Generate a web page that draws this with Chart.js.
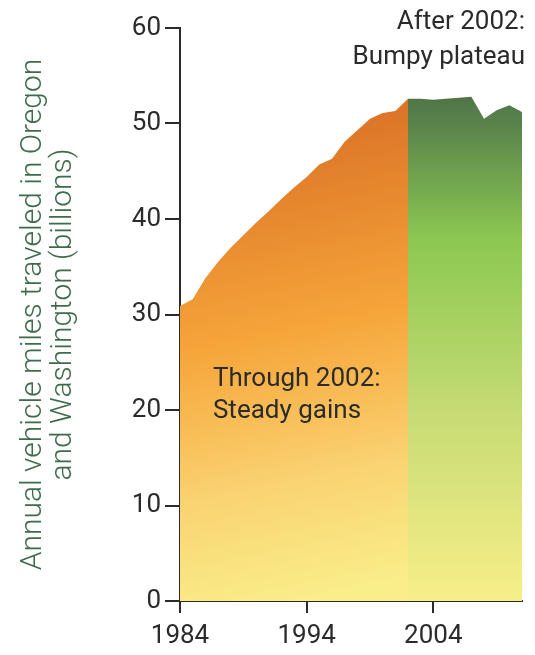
<!DOCTYPE html>
<html>
<head>
<meta charset="utf-8">
<script src="https://cdn.jsdelivr.net/npm/chart.js@4.4.1/dist/chart.umd.min.js"></script>
<style>
  html, body { margin: 0; padding: 0; background: #ffffff; }
  #wrap { position: relative; width: 535px; height: 655px; }
</style>
</head>
<body>
<div id="wrap"><canvas id="vmt"></canvas></div>
<script>
// Annual vehicle miles traveled, Oregon + Washington (billions)
const yearsThrough2002 = [1984, 1985, 1986, 1987, 1988, 1989, 1990, 1991, 1992, 1993,
                          1994, 1995, 1996, 1997, 1998, 1999, 2000, 2001, 2002];
const milesThrough2002 = [30.9, 31.6, 33.8, 35.5, 37.0, 38.3, 39.6, 40.8, 42.1, 43.3,
                          44.4, 45.7, 46.3, 48.1, 49.3, 50.5, 51.1, 51.3, 52.6];
const yearsAfter2002 = [2002, 2003, 2004, 2005, 2006, 2007, 2008, 2009, 2010, 2011];
const milesAfter2002 = [52.6, 52.6, 52.5, 52.6, 52.7, 52.8, 50.5, 51.4, 51.9, 51.2];
const xTickYears = [1984, 1994, 2004];
const yTickValues = [0, 10, 20, 30, 40, 50, 60];

const FONT = 'Roboto, "Liberation Sans", sans-serif';
const INK = '#2b2b2b';

function toPoints(xs, ys) {
  return xs.map((x, i) => ({ x: x, y: ys[i] }));
}

function orangeFill(ctx) {
  const ca = ctx.chart.chartArea;
  if (!ca) return '#f4a23a';
  const g = ctx.chart.ctx.createLinearGradient(ca.left, ca.top, ca.left + 120, ca.bottom);
  g.addColorStop(0.0, '#d4641f');
  g.addColorStop(0.22, '#dd7628');
  g.addColorStop(0.55, '#f6a63a');
  g.addColorStop(0.8, '#fad372');
  g.addColorStop(1.0, '#f9ee8a');
  return g;
}

function greenFill(ctx) {
  const ca = ctx.chart.chartArea;
  if (!ca) return '#8cc852';
  const g = ctx.chart.ctx.createLinearGradient(0, ca.top, 0, ca.bottom);
  g.addColorStop(0.10, '#4a6e47');
  g.addColorStop(0.2, '#628e4c');
  g.addColorStop(0.37, '#8cc852');
  g.addColorStop(0.68, '#c8dc74');
  g.addColorStop(1.0, '#f8ee89');
  return g;
}

// Two-line captions placed by data coordinates through the scales
const captions = {
  id: 'captions',
  afterDatasetsDraw(chart) {
    const { ctx, scales } = chart;
    const xs = scales.x, ys = scales.y;
    ctx.save();
    ctx.fillStyle = INK;
    ctx.font = '400 26px ' + FONT;
    ctx.textBaseline = 'middle';

    ctx.textAlign = 'left';
    const lx = xs.getPixelForValue(1986.6);
    ctx.fillText('Through 2002:', lx, ys.getPixelForValue(23.2));
    ctx.fillText('Steady gains', lx, ys.getPixelForValue(19.8));

    ctx.textAlign = 'right';
    const rx = chart.width - 10;
    ctx.fillText('After 2002:', rx, 22);
    ctx.fillText('Bumpy plateau', rx, 57);
    ctx.restore();
  }
};

new Chart(document.getElementById('vmt'), {
  type: 'line',
  data: {
    datasets: [
      {
        data: toPoints(yearsThrough2002, milesThrough2002),
        fill: 'origin',
        backgroundColor: orangeFill,
        borderWidth: 0,
        pointRadius: 0,
        tension: 0
      },
      {
        data: toPoints(yearsAfter2002, milesAfter2002),
        fill: 'origin',
        backgroundColor: greenFill,
        borderWidth: 0,
        pointRadius: 0,
        tension: 0
      }
    ]
  },
  options: {
    responsive: true,
    maintainAspectRatio: false,
    animation: false,
    layout: { padding: { top: 28, right: 13, left: 0, bottom: 0 } },
    plugins: { legend: { display: false }, tooltip: { enabled: false } },
    scales: {
      x: {
        type: 'linear',
        min: 1984,
        max: 2011,
        afterBuildTicks: s => { s.ticks = xTickYears.map(v => ({ value: v })); },
        afterFit: s => { s.height = 54; },
        border: { display: true, color: INK, width: 2 },
        grid: { drawOnChartArea: false, drawTicks: true, tickLength: 12, color: INK, lineWidth: 2 },
        ticks: {
          color: INK,
          font: { family: FONT, size: 26, weight: '400' },
          padding: 8,
          maxRotation: 0,
          callback: v => String(v)
        }
      },
      y: {
        min: 0,
        max: 60,
        afterBuildTicks: s => { s.ticks = yTickValues.map(v => ({ value: v })); },
        afterFit: s => { s.width = 180; },
        border: { display: true, color: INK, width: 2 },
        grid: { drawOnChartArea: false, drawTicks: true, tickLength: 15, color: INK, lineWidth: 2 },
        ticks: {
          color: INK,
          font: { family: FONT, size: 26, weight: '400' },
          padding: 4
        },
        title: {
          display: true,
          text: ['Annual vehicle miles traveled in Oregon', 'and Washington (billions)'],
          color: '#3e6c4b',
          font: { family: FONT, size: 30, weight: '300', lineHeight: 1.02 },
          padding: { top: 18, bottom: 0 }
        }
      }
    }
  },
  plugins: [captions]
});
</script>
</body>
</html>
